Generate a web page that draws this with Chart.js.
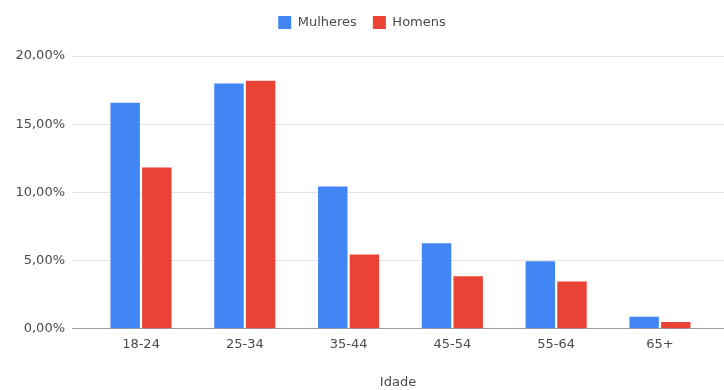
<!DOCTYPE html>
<html>
<head>
<meta charset="utf-8">
<script src="https://cdn.jsdelivr.net/npm/chart.js@4/dist/chart.umd.min.js"></script>
<style>
  html, body { margin: 0; padding: 0; background: #ffffff; }
  #wrap { width: 724px; height: 390px; }
</style>
</head>
<body>
<div id="wrap"><canvas id="chart" width="724" height="390"></canvas></div>
<script>
// Faixas etárias e percentuais por sexo
const ageGroups = ['18-24', '25-34', '35-44', '45-54', '55-64', '65+'];
const mulheres = [16.57, 17.99, 10.44, 6.27, 4.95, 0.88];
const homens = [11.82, 18.18, 5.44, 3.85, 3.46, 0.49];
const yTicks = [0, 5, 10, 15, 20];

const FONT = 'DejaVu Sans';
const TEXT = '#4a4a4a';

const toPoints = arr => arr.map((v, i) => ({ x: i, y: v }));
const pct = v => v.toFixed(2).replace('.', ',') + '%';

// Extra room between the legend and the plot area
const legendGap = {
  id: 'legendGap',
  beforeInit(chart) {
    const origFit = chart.legend.fit;
    chart.legend.fit = function () {
      origFit.call(this);
      this.height += 17;
    };
  }
};

new Chart(document.getElementById('chart'), {
  type: 'bar',
  data: {
    datasets: [
      { label: 'Mulheres', data: toPoints(mulheres), backgroundColor: '#4285F4',
        categoryPercentage: 0.61, barPercentage: 0.93 },
      { label: 'Homens', data: toPoints(homens), backgroundColor: '#EA4335',
        categoryPercentage: 0.61, barPercentage: 0.93 }
    ]
  },
  plugins: [legendGap],
  options: {
    responsive: false,
    animation: false,
    layout: { padding: { top: 0, right: 0, bottom: 0, left: 0 } },
    plugins: {
      legend: {
        position: 'top',
        labels: {
          font: { family: FONT, size: 13 },
          color: TEXT,
          boxWidth: 13,
          boxHeight: 13,
          padding: 16
        }
      },
      tooltip: { enabled: false }
    },
    scales: {
      x: {
        type: 'linear',
        offset: false,
        min: -0.665,
        max: 5.617,
        grid: { display: false, drawTicks: false },
        border: { display: true, color: '#9e9e9e', width: 1 },
        ticks: {
          stepSize: 1,
          includeBounds: false,
          autoSkip: false,
          maxRotation: 0,
          padding: 8,
          font: { family: FONT, size: 13 },
          color: TEXT,
          callback: v => Number.isInteger(v) ? (ageGroups[v] ?? '') : ''
        },
        title: {
          display: true,
          text: 'Idade',
          font: { family: FONT, size: 13 },
          color: TEXT,
          padding: { top: 14, bottom: 0 }
        }
      },
      y: {
        min: yTicks[0],
        max: yTicks[yTicks.length - 1],
        afterFit: scale => { scale.width = 72; },
        afterBuildTicks: scale => { scale.ticks = yTicks.map(v => ({ value: v })); },
        grid: {
          drawTicks: false,
          color: ctx => ctx.tick && ctx.tick.value === 0 ? 'rgba(0,0,0,0)' : '#e3e3e3'
        },
        border: { display: false },
        ticks: {
          padding: 7,
          font: { family: FONT, size: 13 },
          color: TEXT,
          callback: v => pct(v)
        }
      }
    }
  }
});
</script>
</body>
</html>
